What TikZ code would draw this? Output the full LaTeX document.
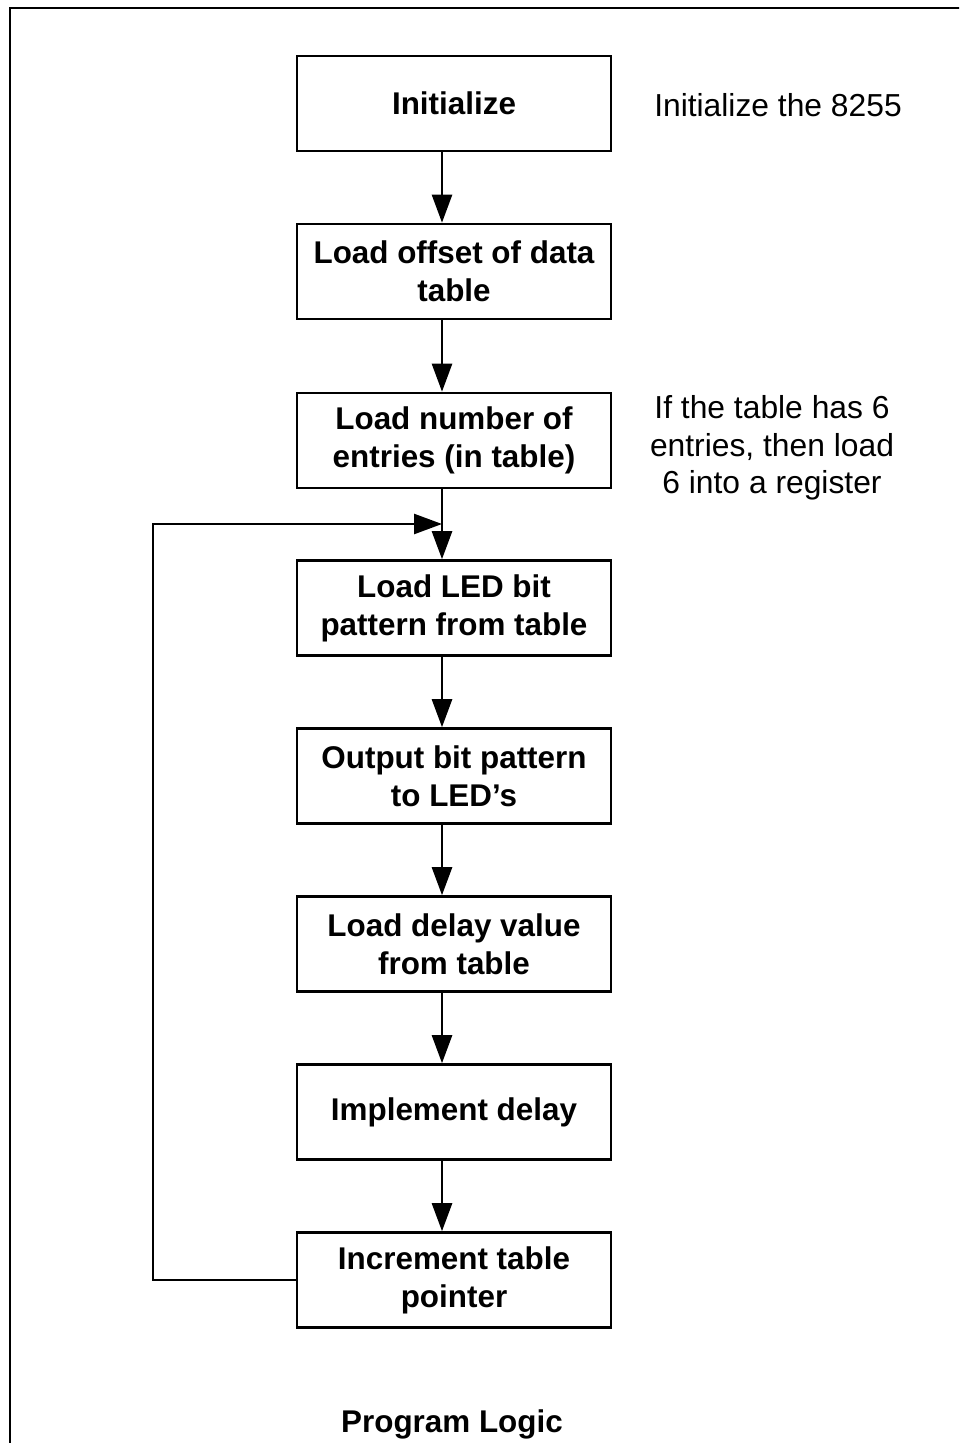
\documentclass[tikz,border=0pt]{standalone}
\usepackage{fontspec}
\setmainfont{Liberation Sans}
\usetikzlibrary{arrows.meta,positioning,calc}

\tikzset{
  stepbox/.style={draw, line width=1.3pt, minimum width=157pt, minimum height=47.5pt,
    inner sep=0pt, align=center, font=\bfseries\fontsize{15.7}{19}\selectfont},
  note/.style={align=center, font=\fontsize{15.9}{18.7}\selectfont},
  flow/.style={line width=1.3pt, -{Triangle[length=14pt,width=10pt]}},
}

\begin{document}
\begin{tikzpicture}[x=0.5pt,y=-0.5pt]
        \useasboundingbox (0,0) rectangle (959,1443);
        \clip (0,0) rectangle (959,1443);
        \draw[line width=1pt] (10,8) rectangle (980,1460); % outer frame

        % flow boxes
        \node[stepbox] (init)   at (454,103.5)  {Initialize};
        \node[stepbox] (offset) at (454,271.5)  {Load offset of data\\table};
        \node[stepbox] (count)  at (454,440.5)  {Load number of\\entries (in table)};
        \node[stepbox] (fetch)  at (454,608)    {Load LED bit\\pattern from table};
        \node[stepbox] (output) at (454,776)    {Output bit pattern\\to LED's};
        \node[stepbox] (delay)  at (454,944)    {Load delay value\\from table};
        \node[stepbox] (wait)   at (454,1112)   {Implement delay};
        \node[stepbox] (incr)   at (454,1280)   {Increment table\\pointer};

        % notes on the right
        \node[note, anchor=base] (initnote) at (778,117) {Initialize the 8255};
        \node[note] (countnote) at (772,448) {If the table has 6\\entries, then load\\6 into a register};

        \node[font=\bfseries\fontsize{15.7}{19}\selectfont, anchor=base] (title) at (452,1432) {Program Logic};

        % arrows run a little left of the box centres
        \coordinate (spine) at (442,0);
        \coordinate (back) at (153,524);
        \draw[flow] (init.south -| spine) -- (offset.north -| spine);
        \draw[flow] (offset.south -| spine) -- (count.north -| spine);
        \draw[flow] (count.south -| spine) -- (fetch.north -| spine);
        \draw[flow] (fetch.south -| spine) -- (output.north -| spine);
        \draw[flow] (output.south -| spine) -- (delay.north -| spine);
        \draw[flow] (delay.south -| spine) -- (wait.north -| spine);
        \draw[flow] (wait.south -| spine) -- (incr.north -| spine);
        \draw[flow] (incr.west) -| (back) -- (back -| spine); % Loop back
\end{tikzpicture}
\end{document}
